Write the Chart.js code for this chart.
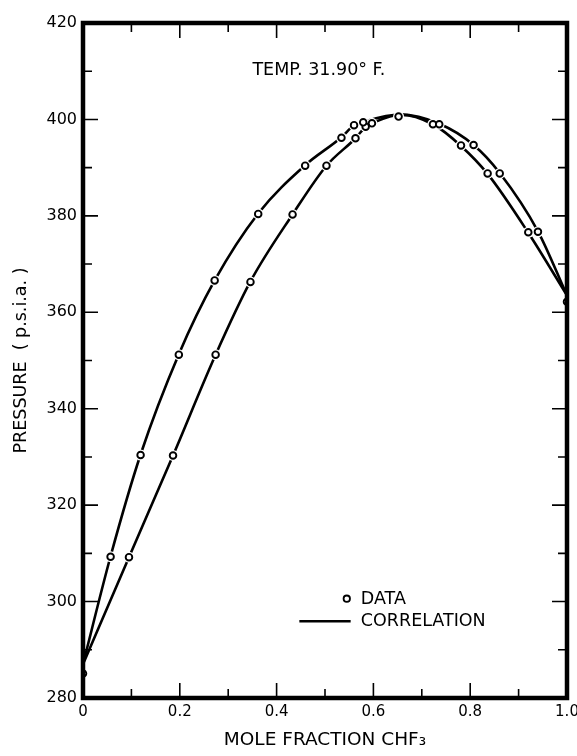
<!DOCTYPE html>
<html>
<head>
<meta charset="utf-8">
<script src="https://cdn.jsdelivr.net/npm/chart.js@4/dist/chart.umd.min.js"></script>
<style>
  html, body { margin: 0; padding: 0; background: #fff; }
  #wrap { width: 577px; height: 756px; position: relative; }
</style>
</head>
<body>
<div id="wrap"><canvas id="c"></canvas></div>
<script>
// ---- data ----
const dataX = [0, 0.057, 0.095, 0.119, 0.186, 0.198, 0.274, 0.272, 0.346, 0.362, 0.433, 0.459, 0.503, 0.534, 0.563, 0.560, 0.584, 0.579, 0.597, 0.652, 0.723, 0.736, 0.781, 0.807, 0.836, 0.861, 0.920, 0.940, 1.0];
const dataP = [285.1, 309.3, 309.2, 330.4, 330.3, 351.2, 351.2, 366.6, 366.3, 380.4, 380.3, 390.4, 390.4, 396.2, 396.1, 398.8, 398.5, 399.4, 399.2, 400.6, 399.0, 399.0, 394.6, 394.7, 388.8, 388.8, 376.6, 376.7, 362.2];

// correlation: outer (upper) curve
const upperX = [0, 0.057, 0.119, 0.198, 0.272, 0.362, 0.459, 0.534, 0.560, 0.579, 0.655, 0.736, 0.807, 0.861, 0.940, 1.0];
const upperP = [287.0, 309.4, 330.5, 351.3, 366.6, 380.5, 390.5, 396.3, 398.8, 399.5, 401.0, 399.1, 394.7, 388.9, 376.8, 363.5];
// correlation: inner (lower) curve
const lowerX = [0, 0.095, 0.186, 0.274, 0.346, 0.433, 0.503, 0.563, 0.584, 0.597, 0.655, 0.723, 0.781, 0.836, 0.920, 1.0];
const lowerP = [287.0, 309.2, 330.3, 351.2, 366.4, 380.3, 390.4, 396.1, 398.5, 399.2, 401.0, 399.0, 394.5, 388.7, 376.5, 363.5];

const xTickLabels = ['0', '0.2', '0.4', '0.6', '0.8', '1.0'];
const yTickLabels = ['280', '300', '320', '340', '360', '380', '400', '420'];

const titleText = 'TEMP. 31.90\u00B0 F.';
const xTitle = 'MOLE FRACTION CHF\u2083';
const yTitle = 'PRESSURE  ( p.s.i.a. )';
const legendLabels = ['DATA', 'CORRELATION'];

const toPts = (xs, ys) => xs.map((x, i) => ({ x: x, y: ys[i] }));

const FONT = '"DejaVu Sans", "Liberation Sans", sans-serif';

const framePlugin = {
  id: 'frame',
  afterDatasetsDraw(chart) {
    const ctx = chart.ctx;
    const xs = chart.scales.x, ys = chart.scales.y;
    const L = xs.left, R = xs.right, T = ys.top, B = ys.bottom;
    ctx.save();
    ctx.strokeStyle = '#000';
    ctx.fillStyle = '#000';
    // inward tick marks
    ctx.lineWidth = 1.6;
    for (let i = 0; i <= 10; i++) {
      const v = i / 10;
      const px = xs.getPixelForValue(v);
      const len = (i % 2 === 0) ? 15 : 9;
      ctx.beginPath();
      ctx.moveTo(px, B); ctx.lineTo(px, B - len);
      ctx.moveTo(px, T); ctx.lineTo(px, T + len);
      ctx.stroke();
    }
    for (let v = 280; v <= 420; v += 10) {
      const py = ys.getPixelForValue(v);
      const len = (v % 20 === 0) ? 15 : 9;
      ctx.beginPath();
      ctx.moveTo(L, py); ctx.lineTo(L + len, py);
      ctx.moveTo(R, py); ctx.lineTo(R - len, py);
      ctx.stroke();
    }
    // thick frame
    ctx.lineWidth = 4.5;
    ctx.lineJoin = 'miter';
    ctx.strokeRect(L, T, R - L, B - T);

    // temperature note
    ctx.font = '17.5px ' + FONT;
    ctx.textBaseline = 'middle';
    ctx.textAlign = 'left';
    ctx.fillText(titleText, xs.getPixelForValue(0.35), ys.getPixelForValue(410.2));

    // legend
    const cx = xs.getPixelForValue(0.545), cy = ys.getPixelForValue(300.6);
    ctx.lineWidth = 1.8;
    ctx.fillStyle = '#fff';
    ctx.beginPath(); ctx.arc(cx, cy, 3.2, 0, Math.PI * 2); ctx.fill(); ctx.stroke();
    ctx.fillStyle = '#000';
    ctx.lineWidth = 2.5;
    const ly = ys.getPixelForValue(295.9);
    ctx.beginPath();
    ctx.moveTo(xs.getPixelForValue(0.447), ly);
    ctx.lineTo(xs.getPixelForValue(0.553), ly);
    ctx.stroke();
    ctx.font = '17.5px ' + FONT;
    ctx.fillText(legendLabels[0], xs.getPixelForValue(0.574), ys.getPixelForValue(300.4));
    ctx.fillText(legendLabels[1], xs.getPixelForValue(0.574), ys.getPixelForValue(295.9));
    ctx.restore();
  }
};

new Chart(document.getElementById('c'), {
  type: 'scatter',
  data: {
    datasets: [
      {
        label: 'upper', data: toPts(upperX, upperP), showLine: true,
        borderColor: '#000', borderWidth: 2.6, pointRadius: 0,
        cubicInterpolationMode: 'monotone', order: 4
      },
      {
        label: 'lower', data: toPts(lowerX, lowerP), showLine: true,
        borderColor: '#000', borderWidth: 2.6, pointRadius: 0,
        cubicInterpolationMode: 'monotone', order: 3
      },
      {
        label: 'halo', data: toPts(dataX, dataP), showLine: false,
        pointRadius: 5.5, pointBackgroundColor: '#fff', pointBorderWidth: 0,
        pointBorderColor: '#fff', order: 2
      },
      {
        label: 'data', data: toPts(dataX, dataP), showLine: false,
        pointRadius: 3.3, pointBackgroundColor: '#fff', pointBorderColor: '#000',
        pointBorderWidth: 1.9, order: 1
      }
    ]
  },
  options: {
    responsive: true,
    maintainAspectRatio: false,
    animation: false,
    events: [],
    layout: { padding: { top: 23, right: 10, bottom: 0, left: 0 } },
    plugins: { legend: { display: false }, tooltip: { enabled: false }, title: { display: false } },
    scales: {
      x: {
        type: 'linear', min: 0, max: 1,
        afterFit(s) { s.height = 58; s.paddingLeft = 0; s.paddingRight = 0; },
        afterBuildTicks(s) { s.ticks = xTickLabels.map(t => ({ value: parseFloat(t) })); },
        ticks: {
          padding: 5, color: '#000', maxRotation: 0, autoSkip: false,
          font: { family: FONT, size: 15 },
          callback: (v, i) => xTickLabels[i]
        },
        grid: { display: false, drawTicks: false },
        border: { display: false },
        title: {
          display: true, text: xTitle, color: '#000',
          font: { family: FONT, size: 18.5 },
          padding: { top: 0, bottom: 5 }
        }
      },
      y: {
        type: 'linear', min: 280, max: 420,
        afterFit(s) { s.width = 83; s.paddingTop = 0; s.paddingBottom = 0; },
        afterBuildTicks(s) { s.ticks = yTickLabels.map(t => ({ value: parseFloat(t) })); },
        ticks: {
          padding: 6, color: '#000', autoSkip: false,
          font: { family: FONT, size: 16 },
          callback: (v, i) => yTickLabels[i]
        },
        grid: { display: false, drawTicks: false },
        border: { display: false },
        title: {
          display: true, text: yTitle, color: '#000',
          font: { family: FONT, size: 17.5 },
          padding: { top: 11, bottom: 0 }
        }
      }
    }
  },
  plugins: [framePlugin]
});
</script>
</body>
</html>
